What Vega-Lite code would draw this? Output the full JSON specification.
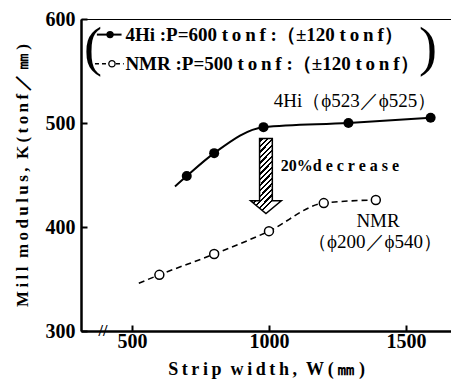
{
  "$schema": "https://vega.github.io/schema/vega-lite/v6.json",
  "width": 371,
  "height": 312,
  "autosize": {"type": "none"},
  "padding": {"left": 81, "top": 19, "right": 0, "bottom": 50},
  "background": "white",
  "view": {"stroke": "black", "strokeWidth": 1},
  "config": {
    "font": "Liberation Serif",
    "axis": {
      "grid": false,
      "domainColor": "black",
      "domainWidth": 2.5,
      "tickColor": "black",
      "tickWidth": 2,
      "tickSize": -6,
      "labelFont": "Liberation Serif",
      "labelFontWeight": "bold",
      "labelFontSize": 20,
      "labelColor": "black",
      "titleFont": "Liberation Serif",
      "titleFontWeight": "bold",
      "titleFontSize": 18,
      "titleColor": "black"
    }
  },
  "datasets": {
    "series": [
      {"series": "4Hi", "kind": "end", "x": 657, "y": 439},
      {"series": "4Hi", "kind": "obs", "x": 700, "y": 449},
      {"series": "4Hi", "kind": "obs", "x": 800, "y": 471},
      {"series": "4Hi", "kind": "obs", "x": 980, "y": 496},
      {"series": "4Hi", "kind": "obs", "x": 1290, "y": 500},
      {"series": "4Hi", "kind": "obs", "x": 1590, "y": 505},
      {"series": "NMR", "kind": "end", "x": 525, "y": 346},
      {"series": "NMR", "kind": "obs", "x": 600, "y": 354},
      {"series": "NMR", "kind": "obs", "x": 800, "y": 374},
      {"series": "NMR", "kind": "obs", "x": 1000, "y": 396},
      {"series": "NMR", "kind": "obs", "x": 1200, "y": 423},
      {"series": "NMR", "kind": "obs", "x": 1390, "y": 426}
    ],
    "legendLines": [
      {"series": "4Hi", "x": 372, "y": 585},
      {"series": "4Hi", "x": 462, "y": 585},
      {"series": "NMR", "x": 365, "y": 557},
      {"series": "NMR", "x": 470, "y": 557}
    ],
    "legendPts": [
      {"series": "4Hi", "x": 420, "y": 585},
      {"series": "NMR", "x": 427, "y": 557}
    ],
    "labels": [
      {"text": "4Hi :P=600 t\u2009o\u2009n\u2009f :（±120 t\u2009o\u2009n\u2009f）", "x": 476, "y": 585},
      {"text": "NMR :P=500 t\u2009o\u2009n\u2009f :（±120 t\u2009o\u2009n\u2009f）", "x": 476, "y": 557}
    ],
    "notes": [
      {"text": "4Hi（ϕ523／ϕ525）", "x": 1314, "y": 521},
      {"text": "NMR", "x": 1398, "y": 406},
      {"text": "（ϕ200／ϕ540）", "x": 1387, "y": 386}
    ],
    "parens": [
      {"text": "(", "x": 358, "y": 571},
      {"text": ")", "x": 1580, "y": 571}
    ]
  },
  "layer": [
    {
      "data": {"name": "series"},
      "transform": [{"filter": "datum.series === '4Hi'"}],
      "mark": {"type": "line", "color": "black", "strokeWidth": 2, "interpolate": "monotone"},
      "encoding": {
        "x": {"field": "x", "type": "quantitative", "scale": {"domain": [314, 1668], "nice": false, "zero": false},
          "axis": {"values": [500, 1000, 1500], "format": "d", "title": "S\u2009t\u2009r\u2009i\u2009p\u2002w\u2009i\u2009d\u2009t\u2009h\u2009,\u2002W\u2009(\u2009㎜\u2009)", "titleX": 185, "titleY": 38, "titleBaseline": "middle", "labelPadding": 6}},
        "y": {"field": "y", "type": "quantitative", "scale": {"domain": [300, 600], "nice": false, "zero": false},
          "axis": {"values": [300, 400, 500, 600], "format": "d", "title": "M\u2009i\u2009l\u2009l\u2002m\u2009o\u2009d\u2009u\u2009l\u2009u\u2009s\u2009,\u2002K\u2009(\u2009t\u2009o\u2009n\u2009f\u2009／\u2009㎜\u2009)", "titleFontSize": 17, "titleX": -59, "titleY": 156, "titleBaseline": "middle", "labelPadding": 12}}
      }
    },
    {
      "data": {"name": "series"},
      "transform": [{"filter": "datum.series === 'NMR'"}],
      "mark": {"type": "line", "color": "black", "strokeWidth": 1.6, "strokeDash": [6, 4], "interpolate": "monotone"},
      "encoding": {
        "x": {"field": "x", "type": "quantitative"},
        "y": {"field": "y", "type": "quantitative"}
      }
    },
    {
      "data": {"name": "series"},
      "transform": [{"filter": "datum.series === '4Hi' && datum.kind === 'obs'"}],
      "mark": {"type": "point", "shape": "circle", "filled": true, "color": "black", "size": 100, "opacity": 1},
      "encoding": {
        "x": {"field": "x", "type": "quantitative"},
        "y": {"field": "y", "type": "quantitative"}
      }
    },
    {
      "data": {"name": "series"},
      "transform": [{"filter": "datum.series === 'NMR' && datum.kind === 'obs'"}],
      "mark": {"type": "point", "shape": "circle", "filled": true, "fill": "white", "stroke": "black", "strokeWidth": 1.5, "size": 80, "opacity": 1},
      "encoding": {
        "x": {"field": "x", "type": "quantitative"},
        "y": {"field": "y", "type": "quantitative"}
      }
    },
    {
      "data": {"name": "legendLines"},
      "transform": [{"filter": "datum.series === '4Hi'"}],
      "mark": {"type": "line", "color": "black", "strokeWidth": 2},
      "encoding": {
        "x": {"field": "x", "type": "quantitative"},
        "y": {"field": "y", "type": "quantitative"}
      }
    },
    {
      "data": {"name": "legendLines"},
      "transform": [{"filter": "datum.series === 'NMR'"}],
      "mark": {"type": "line", "color": "black", "strokeWidth": 1.5, "strokeDash": [4, 3]},
      "encoding": {
        "x": {"field": "x", "type": "quantitative"},
        "y": {"field": "y", "type": "quantitative"}
      }
    },
    {
      "data": {"name": "legendPts"},
      "transform": [{"filter": "datum.series === '4Hi'"}],
      "mark": {"type": "point", "shape": "circle", "filled": true, "color": "black", "size": 55, "opacity": 1},
      "encoding": {
        "x": {"field": "x", "type": "quantitative"},
        "y": {"field": "y", "type": "quantitative"}
      }
    },
    {
      "data": {"name": "legendPts"},
      "transform": [{"filter": "datum.series === 'NMR'"}],
      "mark": {"type": "point", "shape": "circle", "filled": true, "fill": "white", "stroke": "black", "strokeWidth": 1.3, "size": 40, "opacity": 1},
      "encoding": {
        "x": {"field": "x", "type": "quantitative"},
        "y": {"field": "y", "type": "quantitative"}
      }
    },
    {
      "data": {"name": "labels"},
      "mark": {"type": "text", "align": "left", "baseline": "middle", "font": "Liberation Serif", "fontWeight": "bold", "fontSize": 19, "color": "black"},
      "encoding": {
        "x": {"field": "x", "type": "quantitative"},
        "y": {"field": "y", "type": "quantitative"},
        "text": {"field": "text"}
      }
    },
    {
      "data": {"name": "notes"},
      "mark": {"type": "text", "align": "center", "baseline": "middle", "font": "Liberation Serif", "fontSize": 19, "color": "black"},
      "encoding": {
        "x": {"field": "x", "type": "quantitative"},
        "y": {"field": "y", "type": "quantitative"},
        "text": {"field": "text"}
      }
    },
    {
      "data": {"values": [{"text": "20%d e c r e a s e", "x": 1259, "y": 458.5}]},
      "mark": {"type": "text", "align": "center", "baseline": "middle", "font": "Liberation Serif", "fontWeight": "bold", "fontSize": 16, "color": "black"},
      "encoding": {
        "x": {"field": "x", "type": "quantitative"},
        "y": {"field": "y", "type": "quantitative"},
        "text": {"field": "text"}
      }
    },
    {
      "data": {"name": "parens"},
      "mark": {"type": "text", "align": "center", "baseline": "middle", "font": "Liberation Serif", "fontSize": 54, "color": "black"},
      "encoding": {
        "x": {"field": "x", "type": "quantitative"},
        "y": {"field": "y", "type": "quantitative"},
        "text": {"field": "text"}
      }
    },
    {
      "data": {"values": [{"text": "//", "x": 394, "y": 300}]},
      "mark": {"type": "text", "align": "center", "baseline": "middle", "font": "Liberation Serif", "fontSize": 16, "fontWeight": "bold", "color": "black"},
      "encoding": {
        "x": {"field": "x", "type": "quantitative"},
        "y": {"field": "y", "type": "quantitative"},
        "text": {"field": "text"}
      }
    },
    {
      "data": {"values": [{"x": 989, "y": 449}]},
      "mark": {
        "type": "point",
        "filled": true,
        "opacity": 1,
        "size": 5625,
        "shape": "M -0.17 -1 L 0.17 -1 L 0.17 0.66 L 0.41 0.66 L 0 1 L -0.41 0.66 L -0.17 0.66 Z",
        "stroke": "black",
        "strokeWidth": 1.5,
        "fill": {
          "gradient": "linear", "x1": 0, "y1": 0, "x2": 0.42, "y2": 1,
          "stops": [
            {"offset": 0, "color": "black"}, {"offset": 0.025, "color": "black"}, {"offset": 0.025, "color": "white"}, {"offset": 0.0625, "color": "white"},
            {"offset": 0.0625, "color": "black"}, {"offset": 0.0875, "color": "black"}, {"offset": 0.0875, "color": "white"}, {"offset": 0.125, "color": "white"},
            {"offset": 0.125, "color": "black"}, {"offset": 0.15, "color": "black"}, {"offset": 0.15, "color": "white"}, {"offset": 0.1875, "color": "white"},
            {"offset": 0.1875, "color": "black"}, {"offset": 0.2125, "color": "black"}, {"offset": 0.2125, "color": "white"}, {"offset": 0.25, "color": "white"},
            {"offset": 0.25, "color": "black"}, {"offset": 0.275, "color": "black"}, {"offset": 0.275, "color": "white"}, {"offset": 0.3125, "color": "white"},
            {"offset": 0.3125, "color": "black"}, {"offset": 0.3375, "color": "black"}, {"offset": 0.3375, "color": "white"}, {"offset": 0.375, "color": "white"},
            {"offset": 0.375, "color": "black"}, {"offset": 0.4, "color": "black"}, {"offset": 0.4, "color": "white"}, {"offset": 0.4375, "color": "white"},
            {"offset": 0.4375, "color": "black"}, {"offset": 0.4625, "color": "black"}, {"offset": 0.4625, "color": "white"}, {"offset": 0.5, "color": "white"},
            {"offset": 0.5, "color": "black"}, {"offset": 0.525, "color": "black"}, {"offset": 0.525, "color": "white"}, {"offset": 0.5625, "color": "white"},
            {"offset": 0.5625, "color": "black"}, {"offset": 0.5875, "color": "black"}, {"offset": 0.5875, "color": "white"}, {"offset": 0.625, "color": "white"},
            {"offset": 0.625, "color": "black"}, {"offset": 0.65, "color": "black"}, {"offset": 0.65, "color": "white"}, {"offset": 0.6875, "color": "white"},
            {"offset": 0.6875, "color": "black"}, {"offset": 0.7125, "color": "black"}, {"offset": 0.7125, "color": "white"}, {"offset": 0.75, "color": "white"},
            {"offset": 0.75, "color": "black"}, {"offset": 0.775, "color": "black"}, {"offset": 0.775, "color": "white"}, {"offset": 0.8125, "color": "white"},
            {"offset": 0.8125, "color": "black"}, {"offset": 0.8375, "color": "black"}, {"offset": 0.8375, "color": "white"}, {"offset": 0.875, "color": "white"},
            {"offset": 0.875, "color": "black"}, {"offset": 0.9, "color": "black"}, {"offset": 0.9, "color": "white"}, {"offset": 0.9375, "color": "white"},
            {"offset": 0.9375, "color": "black"}, {"offset": 0.9625, "color": "black"}, {"offset": 0.9625, "color": "white"}, {"offset": 1, "color": "white"}
          ]
        }
      },
      "encoding": {
        "x": {"field": "x", "type": "quantitative"},
        "y": {"field": "y", "type": "quantitative"}
      }
    }
  ]
}
